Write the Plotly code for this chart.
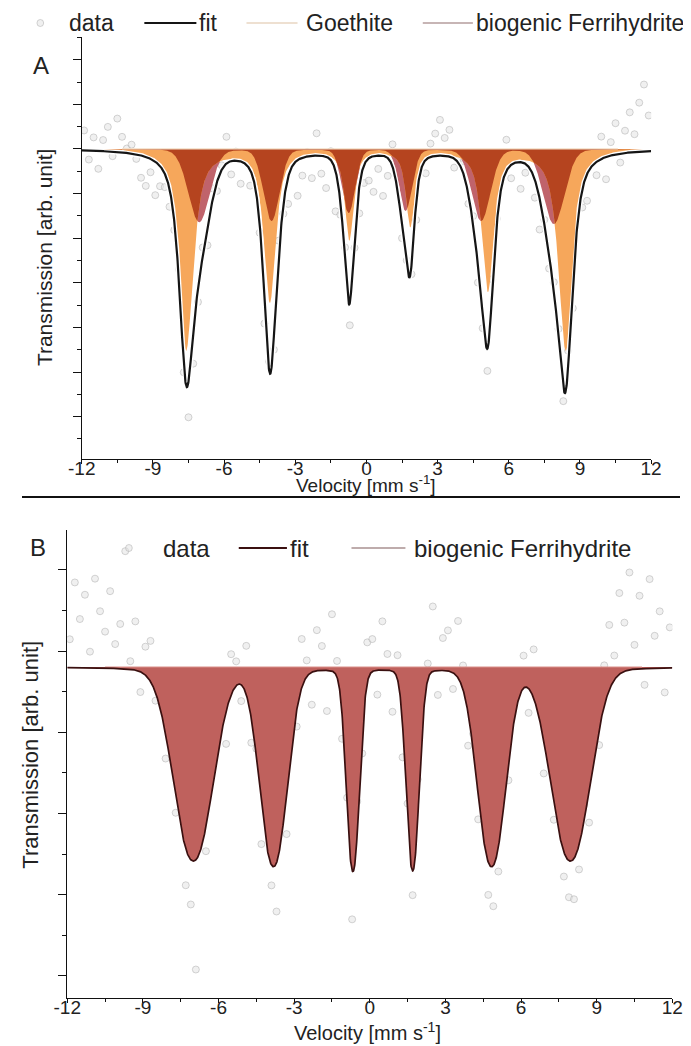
import numpy as np
import plotly.graph_objects as go

# page is 691x1046; the html body has an 8px margin, so the figure is a bit smaller
PAGE_OFF = 8
W, H = 691 - PAGE_OFF, 1046 - PAGE_OFF
FONT = "Liberation Sans, Arial, sans-serif"

# ---------------- data ----------------
# velocity channels (mm/s)
vel_start, vel_step, n_ch = -11.9, 0.2, 120

# Panel A - Goethite sextet (line positions, depths, half widths)
goe_pos = [-7.60, -4.07, -0.72, 1.85, 5.12, 8.40]
goe_depth = [4.50, 3.40, 2.00, 1.70, 3.15, 4.50]
goe_hwhm = [0.36, 0.30, 0.22, 0.22, 0.30, 0.36]
goe_eta = 0.8

# Panel A - biogenic Ferrihydrite sextet
fhA_pos = [-7.05, -4.00, -0.75, 1.65, 4.83, 7.90]
fhA_depth = [1.64, 1.61, 1.43, 1.38, 1.61, 1.68]
fhA_hwhm = [0.53, 0.40, 0.33, 0.33, 0.47, 0.53]
fhA_eta = 0.1

# Panel B - biogenic Ferrihydrite sextet
fhB_pos = [-7.00, -3.82, -0.67, 1.70, 4.83, 7.96]
fhB_depth = [2.38, 2.44, 2.50, 2.49, 2.44, 2.38]
fhB_hwhm = [0.90, 0.63, 0.30, 0.30, 0.65, 0.90]
fhB_eta = 0.08

resA = [0.45, -0.20, 0.30, -0.40, 0.25, 0.55, -0.10, 0.75, 0.35, 0.10,
        0.20, -0.10, -0.50, -0.65, -0.30, -0.75, -0.45, -0.30, -0.40, -0.20,
        0.30, -0.20, -0.80, -0.70, -0.30, 0.20, -0.40, 0.30, -0.20, 0.10,
        0.60, -0.30, 0.20, -0.50, 0.10, -0.35, 0.30, -0.20, -0.60, 0.20,
        -0.30, 0.40, -0.20, -0.60, 0.20, -0.80, -0.40, 0.10, -0.50, 0.50,
        -0.40, -0.70, 0.20, -0.90, -0.30, 0.30, -0.50, -0.20, -0.60, -0.40,
        -0.50, -0.80, -0.30, -0.90, -0.40, 0.50, 0.20, -0.30, 0.10, -0.20,
        -0.40, 0.20, -0.30, 0.30, 0.50, 0.80, 0.40, 0.60, -0.20, 0.10,
        0.30, -0.20, 0.20, -0.40, -0.30, -0.50, 0.30, 0.10, 0.40, 0.70,
        -0.30, 0.20, -0.60, -0.20, 0.30, -0.40, -0.70, 0.10, -0.30, 0.20,
        0.20, -0.30, 0.40, -0.50, 0.30, -0.40, -0.60, 0.20, -0.30, 0.50,
        -0.50, 0.30, 0.70, -0.20, 0.50, 0.90, 0.40, 1.10, 1.50, 0.80]

resB = [0.35, 1.05, 0.60, 0.90, 0.20, 1.10, 0.70, 0.45, 0.95, 0.30,
        0.55, 1.45, 0.10, 0.60, -0.25, 0.35, 0.50, -0.10, 0.25, -0.30,
        0.30, -0.20, 0.40, -0.45, -0.55, -1.35, 0.20, -0.30, 0.50, 0.30,
        0.20, -0.40, 0.50, 0.30, -0.20, 0.60, -0.30, 0.10, -0.50, 0.40,
        -0.25, -0.60, 0.40, -0.50, 0.30, -0.20, 0.60, 0.20, -0.40, 0.50,
        0.30, -0.50, 0.70, 0.20, -0.30, 0.10, -0.60, 0.40, -0.20, 0.50,
        0.40, -0.30, 0.60, 0.20, -0.50, 0.30, -0.40, 0.20, -0.30, 0.50,
        0.60, 0.20, 0.80, -0.30, 0.40, 0.50, -0.20, 0.70, 0.30, -0.40,
        0.20, -0.30, 0.40, -0.40, -0.50, -0.30, 0.30, -0.20, 0.50, 0.30,
        0.40, -0.30, 0.60, 0.20, -0.40, 0.30, -0.20, 0.50, -0.30, -0.45,
        -0.50, -0.30, 0.20, -0.40, 0.30, -0.20, 0.50, 0.80, 0.30, 1.00,
        0.60, 1.20, 0.30, 0.90, -0.20, 1.10, 0.40, 0.70, -0.30, 0.50]

x_ticks = [-12, -9, -6, -3, 0, 3, 6, 9, 12]
x_title = "Velocity [mm s<sup>-1</sup>]"
y_title = "Transmission [arb. unit]"


# ---------------- model ----------------
def sextet(x, pos, depth, hwhm, eta, p=2.0):
    x = np.asarray(x, dtype=float)
    out = np.zeros_like(x)
    for c, d, w in zip(pos, depth, hwhm):
        u = np.abs(x - c) / w
        out += d * ((1 - eta) * np.exp(-np.log(2) * u ** p) + eta / (1 + u * u))
    return out


xs = np.linspace(-12, 12, 2401)
vel = np.round(vel_start + vel_step * np.arange(n_ch), 3)

gA = sextet(xs, goe_pos, goe_depth, goe_hwhm, goe_eta)
fA = sextet(xs, fhA_pos, fhA_depth, fhA_hwhm, fhA_eta)
fitA = -(gA + fA)
dataA = -(sextet(vel, goe_pos, goe_depth, goe_hwhm, goe_eta)
          + sextet(vel, fhA_pos, fhA_depth, fhA_hwhm, fhA_eta)) + np.array(resA)

fB = sextet(xs, fhB_pos, fhB_depth, fhB_hwhm, fhB_eta, p=2.2)
fitB = -fB
dataB = -sextet(vel, fhB_pos, fhB_depth, fhB_hwhm, fhB_eta, p=2.2) + np.array(resB)

C_GOE = "#F6A75B"
C_FHA = "#C0636B"
C_OVL = "#B5441F"
C_FHB = "#BF615D"
DOT_FILL = "rgba(228,228,228,0.55)"
DOT_LINE = "rgba(170,170,170,0.55)"

fig = go.Figure()

marker_data = dict(size=7, color=DOT_FILL, line=dict(color=DOT_LINE, width=0.9))

# ---- panel A ----
fig.add_trace(go.Scatter(x=vel, y=dataA, mode="markers", marker=marker_data,
                         name="data", showlegend=False, xaxis="x", yaxis="y"))
fig.add_trace(go.Scatter(x=xs, y=-fA, mode="lines", line=dict(width=0),
                         fill="tozeroy", fillcolor=C_FHA, showlegend=False,
                         name="biogenic Ferrihydrite", xaxis="x", yaxis="y"))
fig.add_trace(go.Scatter(x=xs, y=-gA, mode="lines", line=dict(width=0),
                         fill="tozeroy", fillcolor=C_GOE, showlegend=False,
                         name="Goethite", xaxis="x", yaxis="y"))
fig.add_trace(go.Scatter(x=xs, y=-np.minimum(gA, fA), mode="lines", line=dict(width=0),
                         fill="tozeroy", fillcolor=C_OVL, showlegend=False,
                         name="overlap", xaxis="x", yaxis="y"))
fig.add_trace(go.Scatter(x=[-10.3, 10.6], y=[0, 0], mode="lines",
                         line=dict(color="#F2DCC4", width=1.3), showlegend=False,
                         hoverinfo="skip", xaxis="x", yaxis="y"))
fig.add_trace(go.Scatter(x=xs, y=fitA, mode="lines", line=dict(color="white", width=5),
                         showlegend=False, hoverinfo="skip", xaxis="x", yaxis="y"))
fig.add_trace(go.Scatter(x=xs, y=fitA, mode="lines", line=dict(color="#151515", width=2.2),
                         name="fit", showlegend=False, xaxis="x", yaxis="y"))

# ---- panel B ----
fig.add_trace(go.Scatter(x=vel, y=dataB, mode="markers", marker=marker_data,
                         name="data", showlegend=False, xaxis="x2", yaxis="y2"))
fig.add_trace(go.Scatter(x=xs, y=fitB, mode="lines", line=dict(width=0),
                         fill="tozeroy", fillcolor=C_FHB, showlegend=False,
                         name="biogenic Ferrihydrite", xaxis="x2", yaxis="y2"))
fig.add_trace(go.Scatter(x=[-10.5, 10.8], y=[0, 0], mode="lines",
                         line=dict(color="#D9908A", width=1.2), showlegend=False,
                         hoverinfo="skip", xaxis="x2", yaxis="y2"))
fig.add_trace(go.Scatter(x=xs, y=fitB, mode="lines", line=dict(color="#3A1010", width=1.7),
                         name="fit", showlegend=False, xaxis="x2", yaxis="y2"))


def px(v):
    # page pixel x -> paper fraction
    return (v - PAGE_OFF) / W


def py(v):
    # page pixel y -> paper fraction
    return 1 - (v - PAGE_OFF) / H


axis_common = dict(showgrid=False, zeroline=False, showline=True, linecolor="#111",
                   linewidth=1.3, ticks="outside", tickcolor="#111", tickwidth=1.2)

xcommon = dict(axis_common, range=[-12, 12], tickmode="array", tickvals=x_ticks,
               ticktext=[str(t) for t in x_ticks], ticklen=4, ticklabelstandoff=-12,
               tickfont=dict(family=FONT, size=19, color="#222"),
               minor=dict(dtick=1.5, tick0=-12, ticklen=3, ticks="outside", tickcolor="#111"))

fig.update_layout(
    width=W, height=H, margin=dict(l=0, r=0, t=0, b=0),
    paper_bgcolor="white", plot_bgcolor="white", showlegend=False,
    font=dict(family=FONT, color="#222"),
    xaxis=dict(xcommon, domain=[px(70), px(661)], anchor="y"),
    yaxis=dict(axis_common, domain=[py(459), py(37)], range=[-6.95, 2.51], anchor="x",
               showticklabels=False, tick0=0, dtick=1, ticklen=8,
               minor=dict(dtick=0.5, tick0=0, ticklen=4, ticks="outside", tickcolor="#111")),
    xaxis2=dict(xcommon, domain=[px(55), px(683)], anchor="y2"),
    yaxis2=dict(axis_common, domain=[py(998), py(530)], range=[-4.076, 1.687], anchor="x2",
                showticklabels=False, tick0=0.197, dtick=1, ticklen=8,
                minor=dict(dtick=0.5, tick0=0.197, ticklen=4, ticks="outside", tickcolor="#111")),
)

shapes = [dict(type="line", xref="paper", yref="paper", x0=0, x1=1, y0=py(497), y1=py(497),
               line=dict(color="#111", width=2))]
annotations = []


def ann(text, x, y, size, xanchor="left", yanchor="middle", angle=0):
    annotations.append(dict(text=text, x=px(x), y=py(y), xref="paper", yref="paper",
                            xanchor=xanchor, yanchor=yanchor, showarrow=False,
                            textangle=angle, font=dict(family=FONT, size=size, color="#222")))


def leg_line(x0, x1, y, color, width):
    shapes.append(dict(type="line", xref="paper", yref="paper", x0=px(x0), x1=px(x1),
                       y0=py(y), y1=py(y), line=dict(color=color, width=width)))


def leg_dot(x, y, r=3.5):
    shapes.append(dict(type="circle", xref="paper", yref="paper", x0=px(x - r), x1=px(x + r),
                       y0=py(y + r), y1=py(y - r), fillcolor=DOT_FILL,
                       line=dict(color=DOT_LINE, width=0.9)))


# legend A
LA = 23
leg_dot(27, LA)
ann("data", 55, LA, 23)
leg_line(135, 189, LA, "#151515", 2)
ann("fit", 190, LA, 23)
leg_line(241, 294, LA, "#E9D6C2", 1.5)
ann("Goethite", 301, LA, 23)
leg_line(424, 476, LA, "#B49C9C", 1.5)
ann("biogenic Ferrihydrite", 477, LA, 23)

# legend B
LB = 548
leg_dot(119, LB)
ann("data", 152, LB, 24)
leg_line(233, 283, LB, "#3A1010", 2)
ann("fit", 284, LB, 24)
leg_line(350, 406, LB, "#A89090", 1.5)
ann("biogenic Ferrihydrite", 413, LB, 24)

# panel letters
ann("A", 28, 66, 24, xanchor="center")
ann("B", 25, 547, 24, xanchor="center")

# axis titles
ann(y_title, 32, 258, 21, xanchor="center", angle=-90)
ann(y_title, 16, 755, 22, xanchor="center", angle=-90)
ann(x_title, 365, 498, 19, xanchor="center", yanchor="bottom")
ann(x_title, 367, 1046, 20, xanchor="center", yanchor="bottom")

fig.update_layout(shapes=shapes, annotations=annotations)

fig.write_html("out.html")
